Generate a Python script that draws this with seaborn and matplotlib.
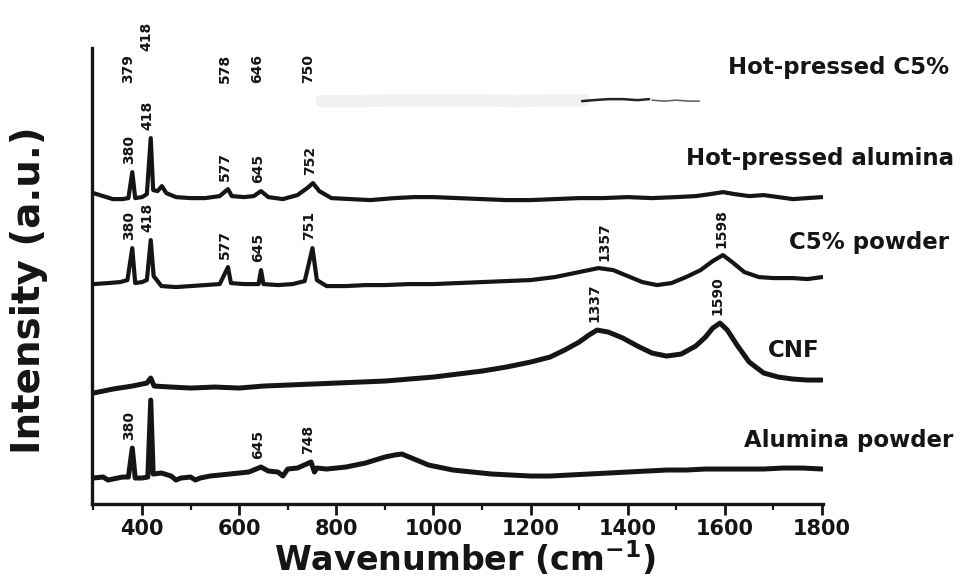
import matplotlib
matplotlib.use("Agg")
import numpy as np
import matplotlib.pyplot as plt
import seaborn as sns
from matplotlib.ticker import MultipleLocator

# ---- Raman spectra (wavenumber in cm^-1, intensity in arbitrary units) ----
alumina_wn = [300, 320, 330, 340, 360, 372, 380, 386, 400, 412, 418, 423, 440, 460, 470,
              480, 500, 510, 520, 540, 560, 580, 600, 620, 645, 660, 680, 690, 700, 720,
              748, 755, 760, 780, 800, 820, 840, 860, 880, 900, 920, 935, 950, 970, 990,
              1010, 1040, 1080, 1120, 1160, 1200, 1240, 1280, 1320, 1360, 1400, 1440,
              1480, 1520, 1560, 1600, 1640, 1680, 1720, 1760, 1800]
alumina_int = [26, 27, 24, 25, 27, 27, 56, 26, 26, 27, 104, 30, 31, 28, 24,
               26, 27, 24, 26, 28, 29, 30, 31, 32, 37, 33, 32, 28, 35, 36,
               42, 32, 36, 35, 36, 37, 39, 41, 44, 47, 49, 50, 47, 43, 39,
               37, 34, 32, 30, 29, 28, 28, 29, 30, 31, 32, 33,
               34, 34, 35, 35, 35, 35, 36, 36, 35]

cnf_wn = [300, 340, 380, 410, 418, 425, 460, 500, 550, 600, 650, 700, 750, 800, 850, 900,
          950, 1000, 1050, 1100, 1150, 1200, 1240, 1270, 1300, 1320, 1337, 1360, 1390,
          1420, 1450, 1480, 1510, 1540, 1560, 1575, 1590, 1605, 1625, 1650, 1680, 1710,
          1740, 1770, 1800]
cnf_int = [111, 115, 118, 121, 126, 118, 117, 116, 117, 116, 118, 119, 120, 121, 122, 123,
           125, 127, 130, 133, 137, 142, 147, 154, 162, 169, 174, 172, 166,
           158, 151, 148, 150, 158, 167, 176, 181, 174, 159, 142, 131, 127,
           125, 124, 124]

c5_wn = [300, 330, 355, 370, 380, 386, 400, 410, 418, 424, 440, 470, 500, 530, 560, 577,
         583, 610, 640, 645, 650, 680, 710, 735, 751, 760, 780, 820, 860, 900, 950, 1000,
         1050, 1100, 1150, 1200, 1250, 1300, 1340, 1370, 1400, 1430, 1460, 1490, 1520,
         1550, 1575, 1596, 1615, 1640, 1670, 1700, 1740, 1770, 1800]
c5_int = [220, 221, 222, 224, 256, 221, 222, 224, 264, 228, 218, 217, 218, 219, 220, 237,
          221, 220, 220, 234, 220, 219, 220, 223, 256, 224, 218, 218, 219, 219, 220, 220,
          221, 222, 223, 224, 227, 232, 236, 234, 228, 222, 219, 221, 227,
          234, 243, 249, 242, 232, 227, 226, 226, 225, 227]

hp_alumina_wn = [300, 320, 340, 360, 372, 380, 386, 400, 410, 418, 423, 432, 441, 450, 470,
                 500, 530, 560, 577, 585, 610, 630, 645, 660, 690, 720, 740, 752, 765, 790,
                 830, 870, 920, 960, 1000, 1050, 1100, 1150, 1200, 1250, 1300, 1350, 1400,
                 1450, 1500, 1540, 1570, 1596, 1620, 1650, 1680, 1710, 1740, 1770, 1800]
hp_alumina_int = [311, 308, 305, 305, 306, 332, 306, 307, 310, 366, 314, 313, 318, 311, 307,
                  306, 306, 308, 315, 308, 307, 308, 313, 307, 305, 309, 316, 321, 313, 306,
                  305, 304, 306, 307, 307, 306, 305, 304, 304, 305, 306, 306, 307,
                  306, 307, 308, 310, 312, 310, 308, 309, 307, 305, 306, 307]

# Hot-pressed C5%: only a faint trace of the spectrum survives
hp_c5_faint_wn = [770, 850, 930, 1010, 1090, 1170, 1250, 1310]
hp_c5_faint_int = [403, 403, 404, 404, 404, 403, 404, 404]
hp_c5_trace_wn = [1306, 1330, 1360, 1390, 1420, 1444]
hp_c5_trace_int = [403, 404, 405, 405, 404, 405]
hp_c5_tail_wn = [1450, 1475, 1500, 1525, 1547]
hp_c5_tail_int = [404, 403, 404, 403, 403]

# ---- peak assignments ----
hp_c5_peaks = [379, 418, 578, 646, 750]
hp_alumina_peaks = [380, 418, 577, 645, 752]
c5_peaks = [380, 418, 577, 645, 751, 1357, 1598]
cnf_peaks = [1337, 1590]
alumina_peaks = [380, 645, 748]

sample_names = ["Hot-pressed C5%", "Hot-pressed alumina", "C5% powder", "CNF", "Alumina powder"]
x_ticks = [400, 600, 800, 1000, 1200, 1400, 1600, 1800]

sns.set_theme(style="ticks")
plt.rcParams["font.family"] = ["DejaVu Sans"]
plt.rcParams["mathtext.fontset"] = "dejavusans"

INK = "#151515"

fig = plt.figure(figsize=(9.6, 5.8), dpi=100)
ax = fig.add_axes([0.0958, 0.131, 0.7615, 0.786])

spectra = [
    (hp_alumina_wn, hp_alumina_int, hp_alumina_peaks),
    (c5_wn, c5_int, c5_peaks),
    (cnf_wn, cnf_int, cnf_peaks),
    (alumina_wn, alumina_int, alumina_peaks),
]
widths = [3.0, 3.0, 3.6, 3.6]
for (wn, inten, _), lw in zip(spectra, widths):
    sns.lineplot(x=wn, y=inten, ax=ax, color=INK, linewidth=lw,
                 sort=False, estimator=None, solid_joinstyle="round")

# faded top spectrum
sns.lineplot(x=hp_c5_faint_wn, y=hp_c5_faint_int, ax=ax, color="#f1f1f1",
             linewidth=9, sort=False, estimator=None)
sns.lineplot(x=hp_c5_trace_wn, y=hp_c5_trace_int, ax=ax, color="#222222",
             linewidth=1.8, sort=False, estimator=None)
sns.lineplot(x=hp_c5_tail_wn, y=hp_c5_tail_int, ax=ax, color="#666666",
             linewidth=1.2, sort=False, estimator=None)

# peak position labels
label_kw = dict(rotation=90, ha="center", va="bottom", fontsize=10,
                fontweight="bold", color=INK, clip_on=False)
for wn, inten, peaks in spectra:
    for p in peaks:
        top = np.interp(p, wn, inten)
        ax.text(p - 6, top + 8, str(p), **label_kw)
for p in hp_c5_peaks:
    lift = 32 if p == 418 else 0
    ax.text(p - 8, 421 + lift, str(p), **label_kw)

# sample names
name_pos = [(2061, 437), (2071, 346), (2061, 262), (1795, 154), (2071, 64)]
for name, (x, y) in zip(sample_names, name_pos):
    ax.text(x, y, name, ha="right", va="center", fontsize=16.5, fontweight="bold",
            color=INK, clip_on=False)

ax.set_xlim(297, 1802)
ax.set_ylim(0, 456)
ax.set_xticks(x_ticks)
ax.xaxis.set_minor_locator(MultipleLocator(100))
ax.set_yticks([])
ax.tick_params(axis="x", which="major", direction="out", length=8, width=2,
               color=INK, pad=3, labelsize=15, labelcolor=INK)
ax.tick_params(axis="x", which="minor", direction="out", length=4, width=1.6, color=INK)
for lab in ax.get_xticklabels():
    lab.set_fontweight("bold")

sns.despine(ax=ax, top=True, right=True)
for side in ("left", "bottom"):
    ax.spines[side].set_linewidth(2.4)
    ax.spines[side].set_color(INK)

ax.set_xlabel(r"Wavenumber (cm$^{\mathbf{-1}}$)", fontsize=24, fontweight="bold", color=INK)
ax.xaxis.label.set_verticalalignment("baseline")
ax.set_ylabel("Intensity (a.u.)", fontsize=28, fontweight="bold", color=INK)
ax.xaxis.set_label_coords(0.51, -0.147)
ax.yaxis.set_label_coords(-0.06, 0.47)

fig.savefig("out.png", dpi=100, facecolor="white")
